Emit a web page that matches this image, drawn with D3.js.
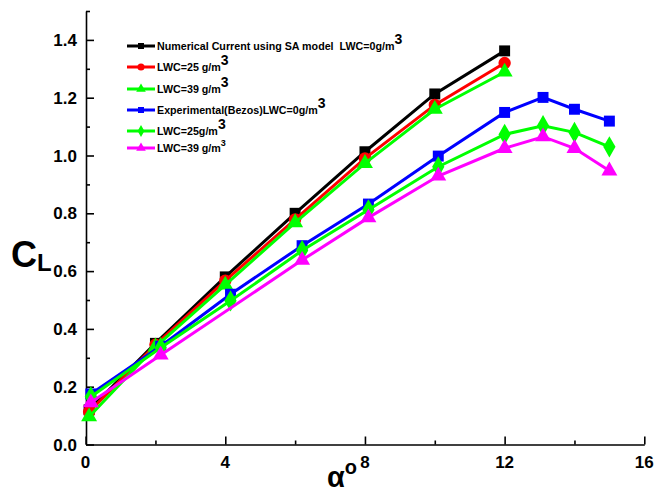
<!DOCTYPE html>
<html><head><meta charset="utf-8">
<script src="https://cdn.jsdelivr.net/npm/d3@7"></script>
<style>body{margin:0;background:#fff}svg{display:block}text{font-family:Arial,"Liberation Sans",sans-serif;font-weight:bold;white-space:pre}</style>
</head><body><svg id="c" width="654" height="495"></svg>
<script>
const xTicks = [0, 4, 8, 12, 16];
const yTicks = [0.0, 0.2, 0.4, 0.6, 0.8, 1.0, 1.2, 1.4];
const numX = [0.1, 2, 4, 6, 8, 10, 12];
const numLWC0 = [0.12, 0.35, 0.58, 0.80, 1.013, 1.213, 1.362];
const numLWC25 = [0.113, 0.345, 0.567, 0.779, 0.99, 1.175, 1.32];
const numLWC39 = [0.096, 0.338, 0.552, 0.768, 0.973, 1.16, 1.289];
const expX = [0.15, 2.15, 4.15, 6.2, 8.1, 10.1, 12, 13.1, 14, 15];
const expLWC0 = [0.175, 0.34, 0.52, 0.688, 0.832, 0.998, 1.149, 1.201, 1.160, 1.119];
const expLWC25 = [0.165, 0.335, 0.497, 0.671, 0.812, 0.961, 1.073, 1.103, 1.080, 1.030];
const expX39 = [0.15, 2.15, 6.2, 8.1, 10.1, 12, 13.1, 14, 15];
const expLWC39 = [0.145, 0.31, 0.638, 0.785, 0.929, 1.025, 1.065, 1.025, 0.947];
const legendLabels = ["Numerical Current using SA model  LWC=0g/m", "LWC=25 g/m", "LWC=39 g/m", "Experimental(Bezos)LWC=0g/m", "LWC=25g/m", "LWC=39 g/m"];

const series = [
  {x: numX, y: numLWC0, color: "#000000", sym: d3.symbolSquare, size: 120, lsize: 36, sup: 14},
  {x: numX, y: numLWC25, color: "#ff0000", sym: d3.symbolCircle, size: 120, lsize: 40, sup: 14},
  {x: numX, y: numLWC39, color: "#00ff00", sym: d3.symbolTriangle, size: 110, lsize: 40, sup: 14},
  {x: expX, y: expLWC0, color: "#0000ff", sym: d3.symbolSquare, size: 120, lsize: 36, sup: 14},
  {x: expX, y: expLWC25, color: "#00ff00", sym: d3.symbolDiamond, size: 130, lsize: 40, sup: 14},
  {x: expX39, y: expLWC39, color: "#ff00ff", sym: d3.symbolTriangle, size: 110, lsize: 40, sup: 9}
];

const svg = d3.select("#c");
const x = d3.scaleLinear().domain([0, 16]).range([85.6, 644.3]);
const y = d3.scaleLinear().domain([0, 1.5]).range([444.5, 11]);

// axes
const xAxis = d3.axisBottom(x).tickValues(d3.range(0, 16.01, 2)).tickSizeInner(-8).tickSizeOuter(0).tickFormat("");
const gx = svg.append("g").attr("transform", "translate(0,444.5)").call(xAxis);
gx.selectAll(".tick line").attr("y2", d => d % 4 === 0 ? -8 : -4);
const yAxis = d3.axisLeft(y).tickValues(d3.range(0, 1.51, 0.1)).tickSizeInner(-8).tickSizeOuter(0).tickFormat("");
const gy = svg.append("g").attr("transform", "translate(86,0)").call(yAxis);
gy.selectAll(".tick line").attr("x2", (d, i) => i % 2 === 0 ? 8 : 4);
svg.selectAll(".domain, .tick line").attr("stroke", "#000").attr("stroke-width", 1.6);

svg.append("g").selectAll("text").data(xTicks).join("text")
  .attr("x", d => x(d)).attr("y", 468).attr("text-anchor", "middle")
  .attr("font-size", 17).text(d => d);
svg.append("g").selectAll("text").data(yTicks).join("text")
  .attr("x", 77).attr("y", d => y(d) + 6).attr("text-anchor", "end")
  .attr("font-size", 17).text(d => d.toFixed(1));

// axis titles
const yl = svg.append("text").attr("x", 11).attr("y", 267).attr("font-size", 36);
yl.append("tspan").text("C");
yl.append("tspan").attr("font-size", 24).attr("dy", 4).text("L");
const xl = svg.append("text").attr("x", 327).attr("y", 487).attr("font-size", 29);
xl.append("tspan").text("α");
xl.append("tspan").attr("font-size", 20).attr("dy", -13).text("o");

// series
const line = d3.line();
series.forEach(s => {
  const pts = s.x.map((v, i) => [x(v), y(s.y[i])]);
  svg.append("path").attr("d", line(pts)).attr("fill", "none")
    .attr("stroke", s.color).attr("stroke-width", 3);
  svg.append("g").selectAll("path").data(pts).join("path")
    .attr("transform", d => `translate(${d[0]},${d[1]})`)
    .attr("d", d3.symbol(s.sym, s.size)).attr("fill", s.color);
});

// legend
const rowsY = [46, 67, 89, 110, 131, 148];
series.forEach((s, i) => {
  const g = svg.append("g").attr("transform", `translate(0,${rowsY[i]})`);
  g.append("line").attr("x1", 127).attr("x2", 155).attr("y1", 0).attr("y2", 0)
    .attr("stroke", s.color).attr("stroke-width", 3);
  g.append("path").attr("transform", "translate(141,0)").attr("d", d3.symbol(s.sym, s.lsize)).attr("fill", s.color);
  const t = g.append("text").attr("x", 157).attr("y", 4).attr("font-size", 10.7);
  t.append("tspan").text(legendLabels[i]);
  t.append("tspan").attr("font-size", s.sup).attr("dy", -6).text("3");
});
</script></body></html>
